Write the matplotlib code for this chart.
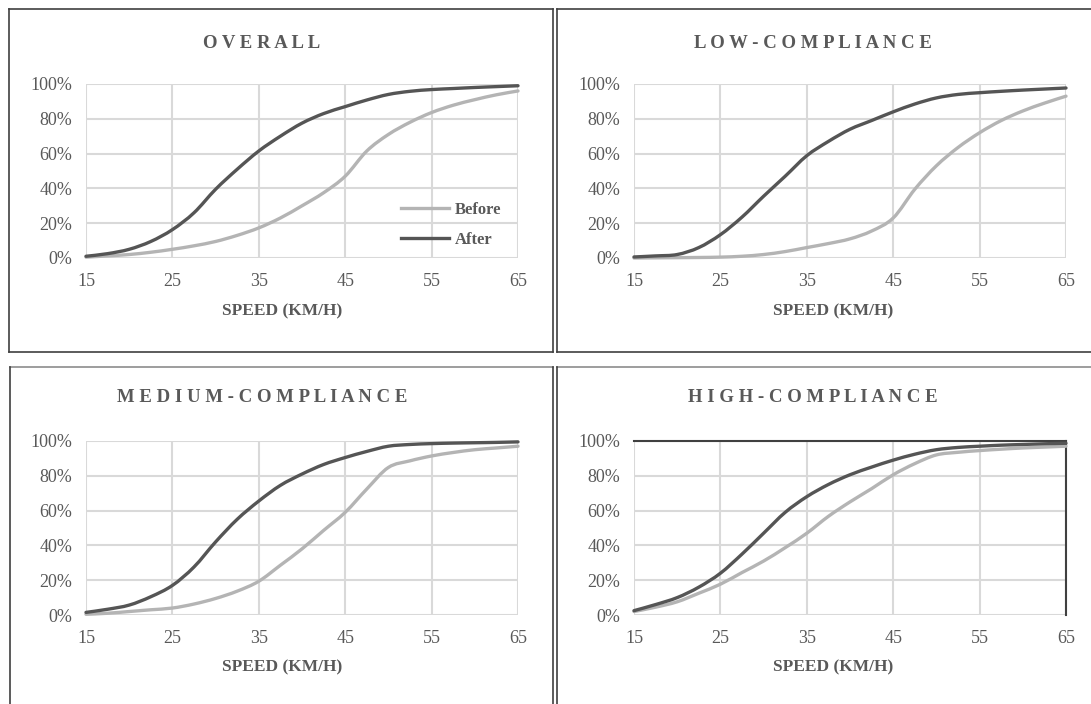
import matplotlib
matplotlib.use("Agg")
import matplotlib.pyplot as plt
from matplotlib.lines import Line2D
from matplotlib.path import Path
from matplotlib.patches import PathPatch

# figure size in pixels
W, H = 1091, 704

# DATA (cumulative share of vehicles, %)
speeds = [15, 17.5, 20, 22.5, 25, 27.5, 30, 32.5, 35, 37.5, 40, 42.5, 45,
          47.5, 50, 52.5, 55, 57.5, 60, 62.5, 65]

overall_after = [1, 2.5, 5, 9.5, 16.3, 26, 39.5, 51, 61.5, 70, 77.5, 83, 87,
                 90.8, 94, 95.8, 96.8, 97.4, 98, 98.5, 99]
overall_before = [0.5, 1.2, 2, 3.3, 5, 7, 9.5, 13, 17.3, 23, 30, 37.5, 47,
                  61.5, 71, 78, 83.6, 87.8, 91, 93.8, 96]
low_after = [0.6, 1.2, 2, 6, 13.4, 23.5, 35.5, 47, 58.8, 67, 74, 79, 84,
             88.5, 92, 94, 95, 95.8, 96.5, 97.1, 97.7]
low_before = [0, 0.1, 0.2, 0.3, 0.5, 1, 2, 3.7, 6, 8.3, 11, 15.5, 23,
              39.5, 53, 63.5, 72, 79, 84.5, 89, 93]
medium_after = [1.5, 3.3, 5.7, 10.5, 17, 27.6, 42, 55, 65.5, 74.5, 81, 86.5, 90.5,
                94, 97, 98, 98.5, 98.8, 99, 99.2, 99.5]
medium_before = [0.4, 1, 2, 3, 4, 6.3, 9.5, 13.7, 19.4, 28.6, 38, 48.6, 59,
                 72.4, 84.8, 88.6, 91.4, 93.4, 95, 96, 97]
high_after = [2.5, 6, 10, 16, 24, 35, 47, 59, 68, 75, 80.6, 85, 89,
              92.4, 95, 96.3, 97, 97.6, 98, 98.4, 98.7]
high_before = [2, 4.5, 7.6, 12.5, 17.7, 24.4, 31, 38.7, 47, 56.7, 65, 72.6, 80.6,
               87, 92, 93.5, 94.5, 95.3, 96, 96.5, 97]

titles = ["OVERALL", "LOW-COMPLIANCE", "MEDIUM-COMPLIANCE", "HIGH-COMPLIANCE"]
series = [(overall_before, overall_after), (low_before, low_after),
          (medium_before, medium_after), (high_before, high_after)]
xticks = [15, 25, 35, 45, 55, 65]
yticks = [0, 20, 40, 60, 80, 100]
ytick_labels = ["0%", "20%", "40%", "60%", "80%", "100%"]
xlabel = "SPEED (KM/H)"

# STYLE
serif = "Liberation Serif"
text_color = "#595959"
before_color = "#b4b4b4"
after_color = "#555555"
grid_color = "#d9d9d9"
border_color = "#404040"
line_w = 2.4

# pixel positions of each panel: (plot left, plot top, title x, title y, label x, label y)
panels = [(86, 84, 262, 43, 282, 311),
          (634, 84, 813, 43, 833, 311),
          (86, 441, 262, 398, 282, 667),
          (634, 441, 813, 398, 833, 667)]
plot_w, plot_h = 432, 174


def smooth_line(ax, xs, ys, color):
    # excel-like smoothed line: bezier segments through the data points
    verts = [(xs[0], ys[0])]
    codes = [Path.MOVETO]
    n = len(xs)
    for k in range(n - 1):
        x0, y0 = xs[max(k - 1, 0)], ys[max(k - 1, 0)]
        x1, y1 = xs[k], ys[k]
        x2, y2 = xs[k + 1], ys[k + 1]
        x3, y3 = xs[min(k + 2, n - 1)], ys[min(k + 2, n - 1)]
        c1 = (x1 + (x2 - x0) / 6, y1 + (y2 - y0) / 6)
        c2 = (x2 - (x3 - x1) / 6, y2 - (y3 - y1) / 6)
        verts += [c1, c2, (x2, y2)]
        codes += [Path.CURVE4] * 3
    ax.add_patch(PathPatch(Path(verts, codes), fill=False, ec=color, lw=line_w,
                           clip_on=False, capstyle="round", zorder=3))


fig = plt.figure(figsize=(W / 100, H / 100), dpi=100)

for i, (left, top, tx, ty, lx, ly) in enumerate(panels):
    ax = fig.add_axes([left / W, 1 - (top + plot_h) / H, plot_w / W, plot_h / H])
    before, after = series[i]
    smooth_line(ax, speeds, before, before_color)
    smooth_line(ax, speeds, after, after_color)
    ax.set_xlim(15, 65)
    ax.set_ylim(0, 100)
    ax.set_xticks(xticks)
    ax.set_yticks(yticks)
    ax.set_yticklabels(ytick_labels)
    ax.grid(True, color=grid_color, lw=1.5)
    ax.set_axisbelow(True)
    for s in ax.spines.values():
        s.set_visible(False)
    ax.tick_params(length=0, labelsize=13, labelcolor=text_color)
    ax.tick_params(axis="x", pad=11)
    ax.tick_params(axis="y", pad=10)
    for lab in ax.get_xticklabels() + ax.get_yticklabels():
        lab.set_fontfamily(serif)

    # the high-compliance plot area has a dark top and right edge
    if i == 3:
        for side in ["top", "right"]:
            ax.spines[side].set_visible(True)
            ax.spines[side].set_color(border_color)
            ax.spines[side].set_linewidth(1.5)

    if i == 0:
        handles = [Line2D([], [], color=before_color, lw=line_w),
                   Line2D([], [], color=after_color, lw=line_w)]
        ax.legend(handles, ["Before", "After"], loc="center",
                  bbox_to_anchor=(0.845, 0.19), frameon=False,
                  handlelength=2.9, handletextpad=0.3, labelspacing=0.85,
                  prop={"family": serif, "weight": "bold", "size": 12},
                  labelcolor=text_color)

    # panel title, letters spread out
    fig.text(tx / W, 1 - ty / H, " ".join(titles[i]), ha="center", va="center",
             fontsize=13.5, fontweight="bold", color=text_color, family=serif)
    fig.text(lx / W, 1 - ly / H, xlabel, ha="center", va="center",
             fontsize=12.5, fontweight="bold", color=text_color, family=serif)


def line(x0, y0, x1, y1, color=border_color, lw=1.2):
    fig.add_artist(Line2D([x0 / W, x1 / W], [1 - y0 / H, 1 - y1 / H],
                          color=color, lw=lw, transform=fig.transFigure))


# panel borders
line(9, 9, 553, 9)
line(557, 9, 1091, 9)
line(9, 352, 553, 352)
line(557, 352, 1091, 352)
line(9, 9, 9, 352)
line(553, 9, 553, 352)
line(557, 9, 557, 352)
line(10, 367, 553, 367, color="#8c8c8c")
line(557, 367, 1091, 367, color="#8c8c8c")
line(10, 367, 10, 704)
line(553, 367, 553, 704)
line(557, 367, 557, 704)

fig.savefig("out.png", dpi=100)
